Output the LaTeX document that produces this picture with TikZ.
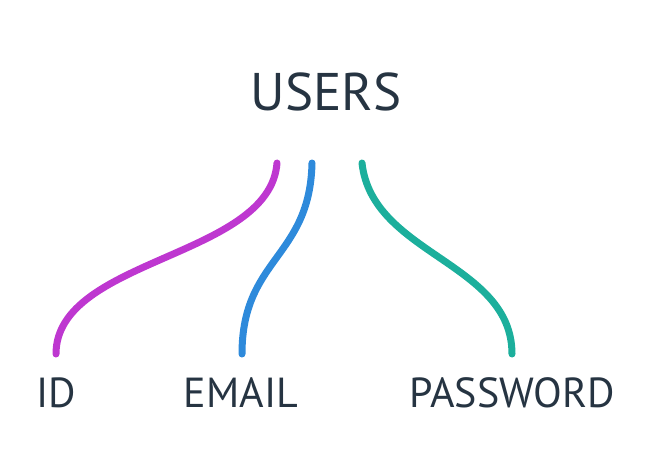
\documentclass[tikz,border=0pt]{standalone}
\usepackage{fontspec}
\setmainfont{PT Sans}
\definecolor{txt}{HTML}{263442}
\definecolor{cpurple}{HTML}{BE37D0}
\definecolor{cblue}{HTML}{2E8ADB}
\definecolor{cteal}{HTML}{1CAF9C}
\begin{document}
\begin{tikzpicture}[x=1pt,y=-1pt,
  title/.style={text=txt,font=\fontsize{53}{53}\selectfont,inner sep=0pt,anchor=center},
  field/.style={text=txt,font=\fontsize{42}{42}\selectfont,inner sep=0pt,anchor=center},
  link/.style={line width=7pt,line cap=round}]
\useasboundingbox (0,0) rectangle (656,448);
\node[title] (users) at (326,92) {USERS};
\node[field] (id) at (56,393) {ID};
\node[field] (email) at (241,393) {EMAIL};
\node[field] (pw) at (512,393) {PASSWORD};
\coordinate (s1) at (277,163);
\coordinate (s2) at (312,163);
\coordinate (s3) at (362,163);
\coordinate (e1) at (56,354);
\coordinate (e2) at (242,354);
\coordinate (e3) at (512,354);
\draw[link,cpurple] (s1) .. controls (270,258) and (56,258) .. (e1);
\draw[link,cblue] (s2) .. controls (310,258) and (242,258) .. (e2);
\draw[link,cteal] (s3) .. controls (372,255) and (512,262) .. (e3);
\end{tikzpicture}
\end{document}
